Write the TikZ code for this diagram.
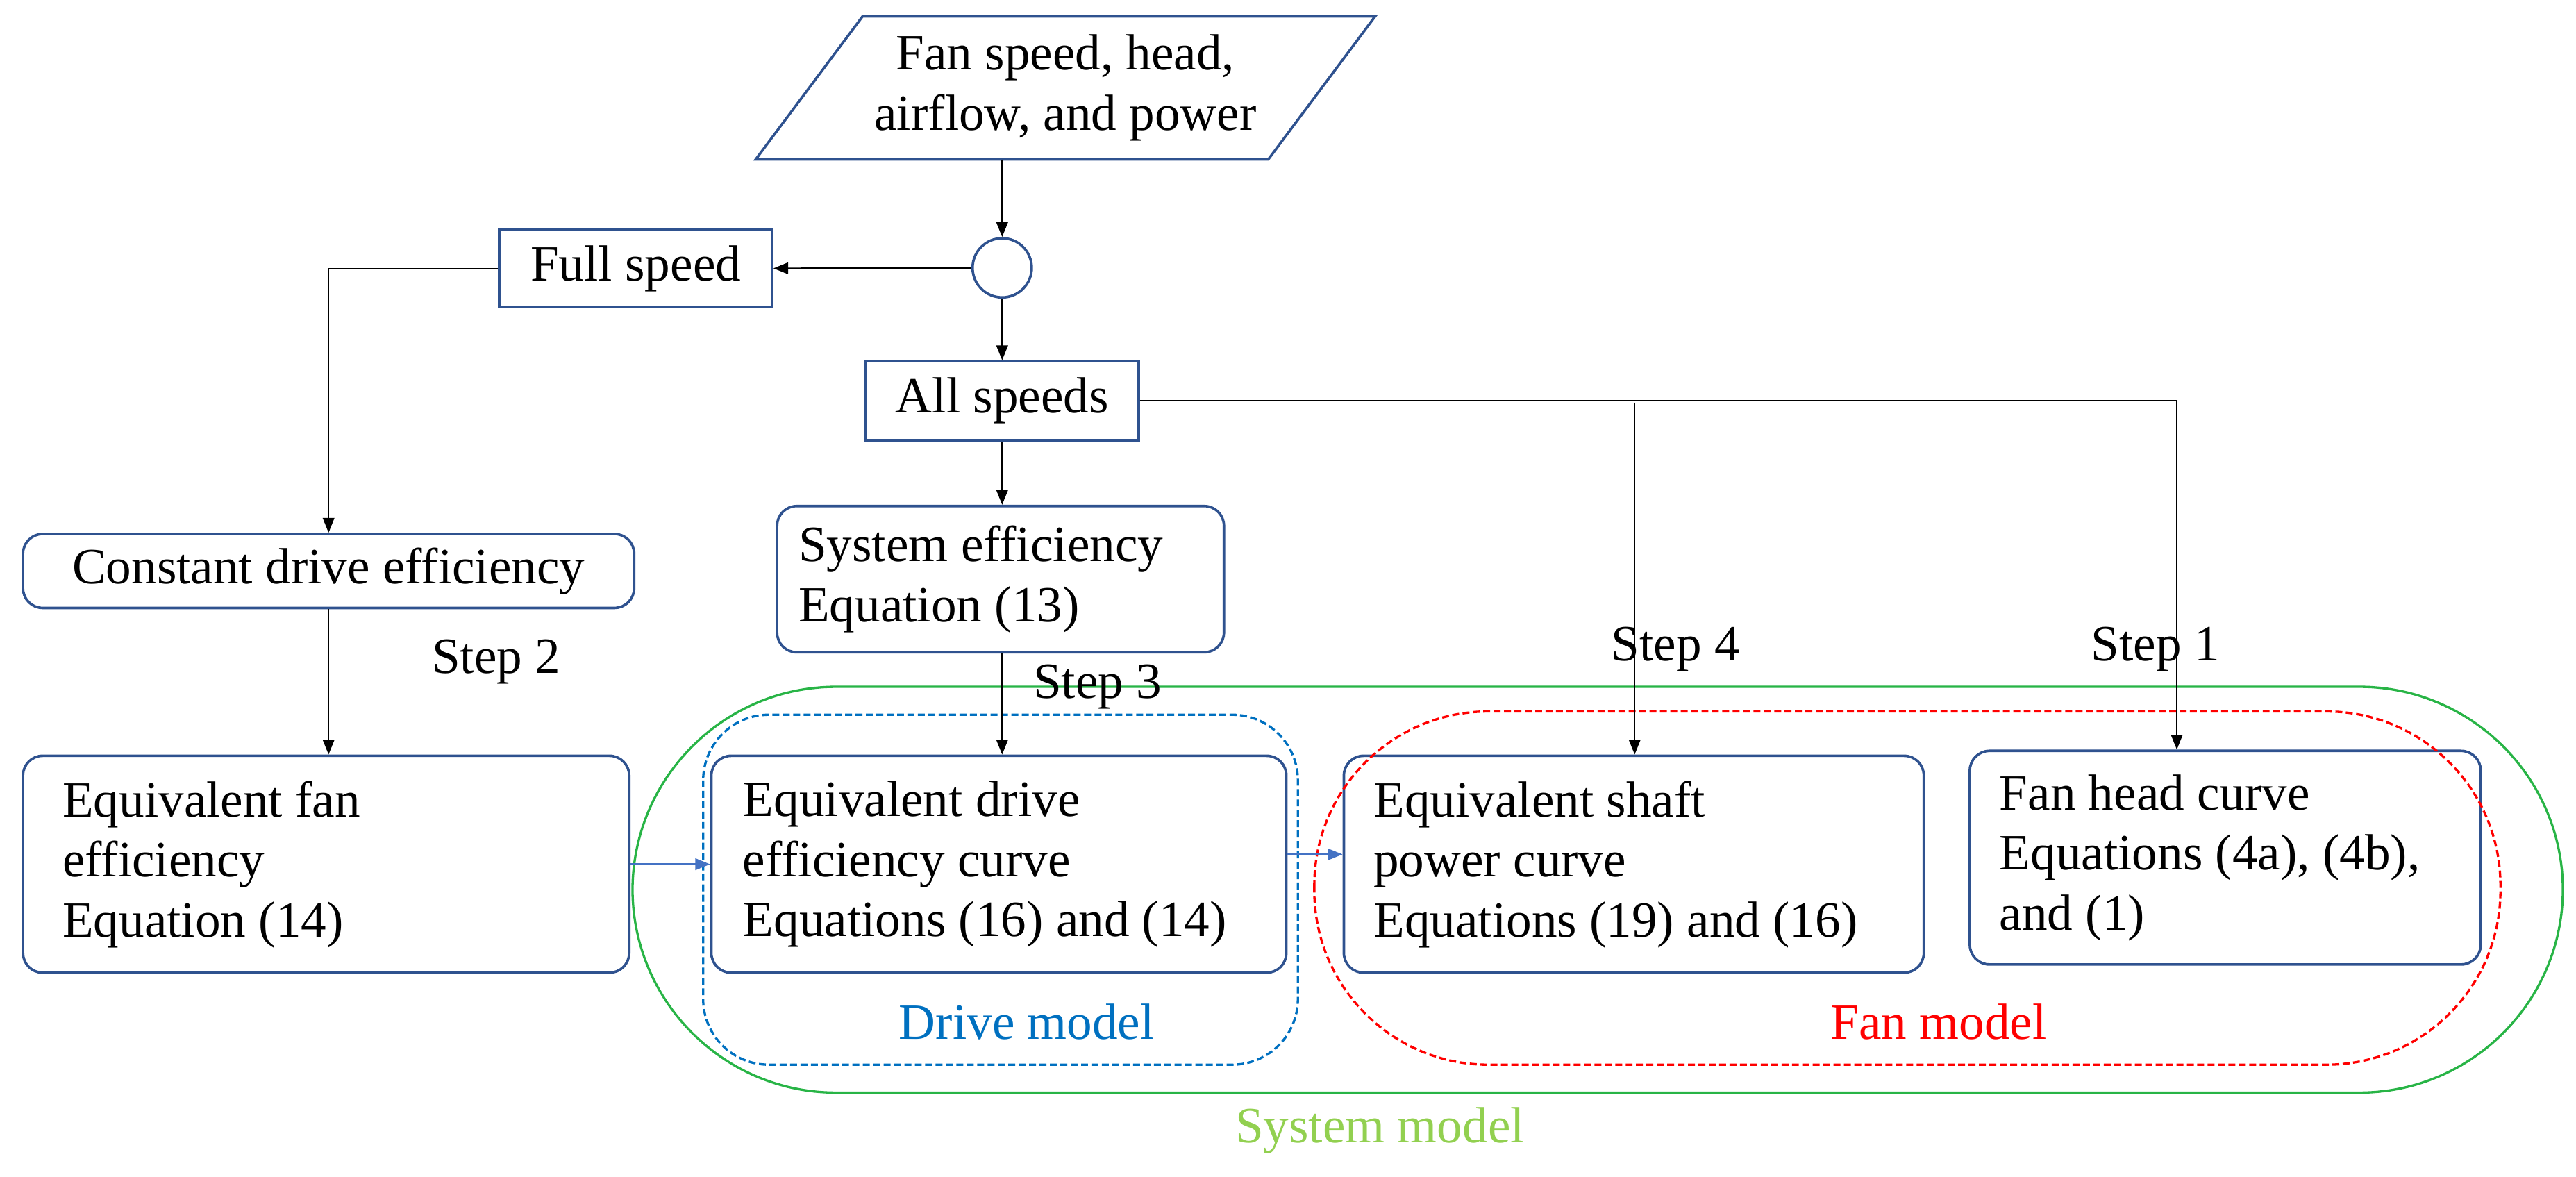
\documentclass[tikz,border=0pt]{standalone}
\usepackage{fontspec}
\setmainfont{Liberation Serif}
\usetikzlibrary{shapes.geometric,arrows.meta,positioning}
\definecolor{bx}{RGB}{47,82,143}
\definecolor{ab}{RGB}{68,114,196}
\definecolor{gr}{RGB}{40,180,70}
\definecolor{lg}{RGB}{146,208,80}
\definecolor{db}{RGB}{0,112,192}
\begin{document}
\begin{tikzpicture}[x=0.05cm,y=-0.05cm,
 font=\fontsize{44}{52}\selectfont,
 box/.style={draw=bx,line width=2.2pt,rounded corners=0.6cm,inner sep=0pt},
 sq/.style={draw=bx,line width=2.2pt,inner sep=0pt},
 arr/.style={line width=1.3pt,-{Triangle[length=0.45cm,width=0.35cm]}},
 barr/.style={draw=ab,line width=1.3pt,-{Triangle[length=0.45cm,width=0.35cm]}},
 dsh/.style={line width=2pt,dash pattern=on 6pt off 3pt},
 lbl/.style={inner sep=0pt}]
\useasboundingbox (0,0) rectangle (1568,716);
% input
\draw[bx,line width=2.2pt] (525,10) -- (837,10) -- (772,97) -- (460,97) -- cycle;
\node[lbl,align=center] (in) at (648.5,53.5) {Fan speed, head,\\airflow, and power};
\coordinate (inb) at (610,97);
\node[circle,draw=bx,line width=2.2pt,minimum size=36*0.05cm,inner sep=0pt] (c) at (610,163) {};
\node[sq,minimum width=166*0.05cm,minimum height=47*0.05cm] (full) at (387,163.5) {Full speed};
\node[sq,minimum width=166*0.05cm,minimum height=48*0.05cm] (all) at (610,244) {All speeds};
\node[box,minimum width=372*0.05cm,minimum height=45*0.05cm] (cde) at (200,347.5) {Constant drive efficiency};
\node[box,minimum width=272*0.05cm,minimum height=89*0.05cm] (sys) at (609,352.5) {};
\node[lbl,anchor=west,align=left] at (486,352.5) {System efficiency\\Equation (13)};
\node[box,minimum width=369*0.05cm,minimum height=132*0.05cm] (ef) at (198.5,526) {};
\node[lbl,anchor=west,align=left] at (38,526) {Equivalent fan\\efficiency\\Equation (14)};
\node[box,minimum width=350*0.05cm,minimum height=132*0.05cm] (ed) at (608,526) {};
\node[lbl,anchor=west,align=left] at (452,526) {Equivalent drive\\efficiency curve\\Equations (16) and (14)};
\node[box,minimum width=353*0.05cm,minimum height=132*0.05cm] (es) at (994.5,526) {};
\node[lbl,anchor=west,align=left] at (836,526) {Equivalent shaft\\power curve\\Equations (19) and (16)};
\node[box,minimum width=311*0.05cm,minimum height=130*0.05cm] (fh) at (1354.5,522) {};
\node[lbl,anchor=west,align=left] at (1217,522) {Fan head curve\\Equations (4a), (4b),\\and (1)};
% groups
\draw[gr,line width=2pt,rounded corners=6.2cm] (385,418) rectangle (1560,665);
\draw[db,dsh,rounded corners=2cm] (428,435) rectangle (790,648);
\draw[red,dsh,rounded corners=5.3cm] (800,433) rectangle (1522,648);
\node[db] at (625,622) {Drive model};
\node[red] at (1180,622) {Fan model};
\node[lg] at (840,688) {System model};
\node at (302,403) {Step 2};
\node at (668,418) {Step 3};
\node at (1020,395) {Step 4};
\node at (1312,395) {Step 1};
% connectors
\draw[arr] (inb) -- (c);
\draw[arr] (c) -- (full);
\draw[arr] (c) -- (all);
\draw[arr] (full.west) -| (cde.north -| 200,0);
\draw[arr] (cde.south -| 200,0) -- (ef.north -| 200,0);
\draw[arr] (all.south -| 610,0) -- (sys.north -| 610,0);
\draw[arr] (sys.south -| 610,0) -- (ed.north -| 610,0);
\draw[arr] (all.east) -| (fh.north -| 1325,0);
\draw[arr] (995,245) -- (es.north -| 995,0);
\draw[barr] (ef.east) -- (ef.east -| ed.west);
\draw[barr] (ed.east |- 0,520) -- (es.west |- 0,520);
\end{tikzpicture}
\end{document}
